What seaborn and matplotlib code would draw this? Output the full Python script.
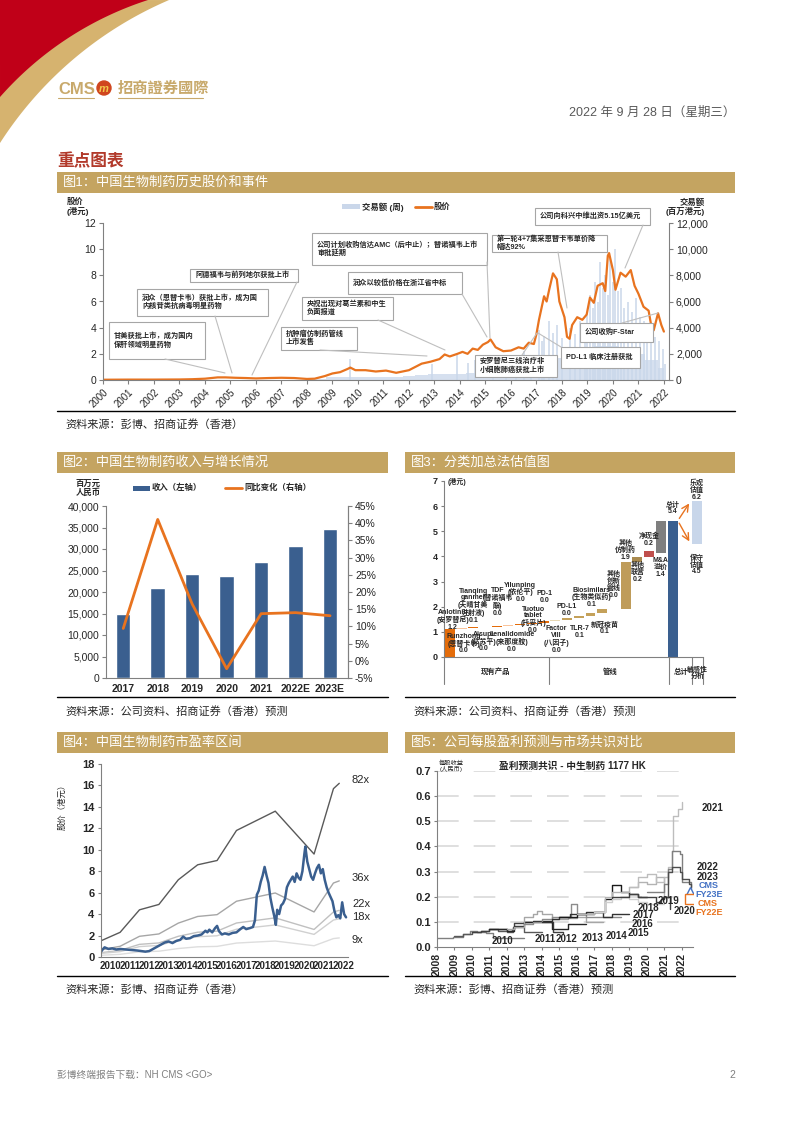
import numpy as np
import matplotlib
matplotlib.use("Agg")
import matplotlib.pyplot as plt
import seaborn as sns
from matplotlib.patches import Rectangle, Polygon, Circle

# -------------------------------
# Data
# -------------------------------

# Fig 1: share price (HKD) and weekly turnover (HKD mn), x = position on the year axis
fig1_years = [str(y) for y in range(2000, 2023)]
price_pos = [0, 1, 2, 3, 3.5, 4, 4.5, 4.8, 5.2, 5.6, 6, 6.5, 7, 7.5, 8, 8.3, 8.7,
             9.0, 9.3, 9.6, 9.7, 9.9, 10.3, 10.7, 11.1, 11.5, 12.0, 12.5, 12.85,
             13.2, 13.4, 13.6, 13.9, 14.1, 14.3, 14.5, 14.7, 14.9, 15.1, 15.2, 15.4,
             15.7, 16.0, 16.3, 16.5, 16.7, 16.9, 17.0, 17.1, 17.3, 17.4, 17.5, 17.65,
             17.8, 17.9, 18.1, 18.2, 18.3, 18.4, 18.6, 18.8, 18.97, 19.1, 19.25, 19.4,
             19.6, 19.7, 19.8, 19.85, 20.0, 20.1, 20.3, 20.5, 20.7, 20.85, 21.0, 21.2,
             21.4, 21.5, 21.6, 21.77, 21.9, 22.0]
price_hkd = [0.02, 0.03, 0.03, 0.04, 0.06, 0.1, 0.2, 0.2, 0.17, 0.15, 0.12, 0.15,
             0.17, 0.15, 0.08, 0.1, 0.3, 0.5, 0.6, 0.85, 0.95, 0.75, 0.75, 0.65,
             0.72, 0.55, 0.75, 1.25, 1.4, 1.6, 1.95, 1.8, 2.0, 2.15, 2.0, 2.4, 2.3,
             2.7, 2.9, 3.1, 2.5, 2.2, 2.25, 2.5, 2.4, 2.85, 2.75, 3.5, 4.6, 6.4, 6.0,
             6.9, 8.15, 7.7, 6.0, 4.8, 3.3, 3.15, 4.2, 4.8, 4.6, 5.0, 6.3, 5.9, 7.2,
             7.4, 6.8, 9.5, 9.7, 8.4, 6.9, 8.2, 7.9, 8.4, 7.2, 6.6, 5.6, 5.3, 4.2,
             3.8, 5.1, 4.2, 3.7]
vol_pos = [8.0, 8.5, 9.0, 9.5, 10.0, 10.5, 11.0, 11.5, 12.0, 12.5, 13.0, 13.5, 14.0,
           14.5, 15.0, 15.5, 16.0, 16.5, 17.0, 17.5, 18.0, 18.5, 19.0, 19.5, 20.0,
           20.5, 21.0, 21.5, 22.0]
vol_level = [40, 80, 200, 250, 220, 220, 220, 250, 300, 400, 450, 450, 450, 550,
             600, 600, 700, 900, 1500, 1900, 1700, 1700, 2100, 2600, 2600, 2200,
             2000, 1500, 900]
spike_pos = [9.7, 12.9, 13.9, 14.3, 14.6, 15.3, 15.8, 16.2, 16.5, 16.8, 17.1, 17.2,
             17.3, 17.5, 17.65, 17.8, 18.0, 18.3, 18.5, 18.7, 18.9, 19.0, 19.1, 19.2,
             19.3, 19.4, 19.5, 19.6, 19.7, 19.8, 19.9, 20.0, 20.1, 20.2, 20.3, 20.45,
             20.6, 20.75, 20.9, 21.05, 21.2, 21.35, 21.5, 21.65, 21.8, 21.95, 22.05]
spike_val = [1600, 1200, 1900, 1300, 1500, 1600, 1400, 1800, 2200, 1900, 3800, 3000,
             3400, 4500, 3600, 4200, 3200, 4000, 3500, 4500, 3800, 5200, 6500, 5500,
             7500, 6000, 9000, 7000, 8000, 6500, 9500, 7500, 10000, 6800, 7000, 5500,
             6000, 5200, 6300, 4800, 4500, 3900, 3500, 3300, 3000, 2400, 1200]

# Fig 2: revenue (RMB mn) and yoy growth (%)
rev_years = ["2017", "2018", "2019", "2020", "2021", "2022E", "2023E"]
revenue = [14800, 20970, 24300, 23700, 26900, 30700, 34600]
growth = [9.4, 41.1, 16.5, -2.3, 13.7, 14.0, 13.1]

# Fig 3: sum-of-the-parts (HKD per share)
sotp_names = ["Anlotinib\n(安罗替尼)", "Runzhong\n(恩替卡韦)", "Tianqing\nganmei\n(天晴甘美\n注射液)",
              "Aisupi\n(艾苏平)", "TDF\n(替诺福韦\n酯)", "Lenalidomide\n(来那度胺)",
              "Yilunping\n(依伦平)", "Tuotuo\ntablet\n(托妥片)", "PD-1", "Factor\nVIII\n(八因子)",
              "PD-L1", "TLR-7", "Biosimilars\n(生物类似药)", "新冠疫苗", "其他\n创新\n管线",
              "其他\n仿制药", "其他\n联营", "净现金", "M&A\n溢价", "总计"]
sotp_text = ["1.2", "0.0", "0.1", "0.0", "0.0", "0.0", "0.0", "0.0", "0.0", "0.0",
             "0.0", "0.1", "0.1", "0.1", "0.0", "1.9", "0.2", "0.2", "1.4", "5.4"]
sotp_bottom = [0, 1.12, 1.15, 1.18, 1.21, 1.23, 1.27, 1.30, 1.36, 1.44, 1.46, 1.54,
               1.62, 1.76, 1.90, 1.90, 3.77, 3.97, 4.15, 0]
sotp_top = [1.12, 1.15, 1.18, 1.21, 1.23, 1.27, 1.30, 1.36, 1.44, 1.46, 1.54, 1.62,
            1.76, 1.90, 1.92, 3.77, 3.97, 4.21, 5.42, 5.42]
sens_low, sens_high = 4.5, 6.2

# Fig 4: P/E bands (HKD) and share price
pe_years = [2010, 2011, 2012, 2013, 2014, 2015, 2016, 2017, 2019, 2021, 2022, 2022.3]
pe82 = [1.5, 2.3, 4.4, 4.9, 7.2, 8.6, 9.0, 11.8, 13.6, 9.6, 15.7, 16.2]
pe36 = [0.66, 1.0, 1.93, 2.15, 3.16, 3.78, 3.95, 5.2, 5.97, 4.2, 6.9, 7.1]
pe22 = [0.40, 0.62, 1.18, 1.31, 1.93, 2.31, 2.41, 3.17, 3.65, 2.57, 4.2, 4.35]
pe18 = [0.33, 0.5, 0.97, 1.08, 1.58, 1.89, 1.98, 2.59, 2.99, 2.11, 3.45, 3.56]
pe9 = [0.16, 0.25, 0.48, 0.54, 0.79, 0.95, 0.99, 1.3, 1.49, 1.05, 1.72, 1.78]
px_date = [2010.0, 2010.1, 2010.2, 2010.4, 2010.6, 2010.8, 2011.0, 2011.3, 2011.6, 2011.9,
           2012.1, 2012.3, 2012.5, 2012.7, 2012.9, 2013.1, 2013.3, 2013.5, 2013.7, 2013.9,
           2014.1, 2014.25, 2014.4, 2014.6, 2014.8, 2015.0, 2015.2, 2015.4, 2015.5, 2015.6,
           2015.75, 2015.9, 2016.0, 2016.1, 2016.25, 2016.4, 2016.6, 2016.8, 2017.0, 2017.2,
           2017.35, 2017.5, 2017.7, 2017.85, 2017.95, 2018.05, 2018.15, 2018.25, 2018.35,
           2018.45, 2018.55, 2018.65, 2018.75, 2018.85, 2018.95, 2019.03, 2019.1, 2019.2,
           2019.3, 2019.4, 2019.5, 2019.6, 2019.7, 2019.8, 2019.9, 2020.0, 2020.1, 2020.2,
           2020.3, 2020.4, 2020.5, 2020.55, 2020.65, 2020.75, 2020.85, 2020.95, 2021.05,
           2021.15, 2021.25, 2021.35, 2021.45, 2021.55, 2021.65, 2021.75, 2021.85, 2021.95,
           2022.05, 2022.15, 2022.25, 2022.35, 2022.45, 2022.55, 2022.65]
px_close = [0.45, 0.7, 0.9, 0.75, 0.8, 0.7, 0.75, 0.7, 0.65, 0.6, 0.55, 0.5, 0.55, 0.75,
            0.95, 1.15, 1.35, 1.45, 1.3, 1.5, 1.6, 1.9, 1.7, 1.75, 1.95, 2.0, 2.1, 2.45,
            2.3, 2.55, 2.3, 2.7, 2.9, 2.4, 2.1, 2.2, 2.1, 2.25, 2.3, 2.6, 2.8, 2.6, 2.7,
            2.8, 3.4, 5.8, 6.2, 7.0, 7.6, 8.4, 7.6, 6.9, 5.5, 4.6, 3.8, 3.0, 4.4, 4.0,
            4.8, 5.0, 5.4, 6.5, 6.9, 7.2, 7.5, 7.0, 7.8, 7.4, 7.2, 8.0, 9.6, 10.3, 8.9,
            8.2, 7.5, 7.2, 7.8, 8.3, 8.6, 7.8, 8.2, 7.2, 6.5, 6.0, 5.6, 5.2, 4.3, 3.7,
            3.9, 3.6, 5.1, 4.0, 3.7]

# Fig 5: consensus EPS (RMB) by fiscal year
eps_lines = {
    "2010": ([2008.0, 2008.9, 2009.5, 2009.9, 2010.3, 2010.8, 2011.2, 2013.0],
             [0.035, 0.04, 0.05, 0.065, 0.06, 0.055, 0.037, 0.037]),
    "2011": ([2009.0, 2009.5, 2010.0, 2010.5, 2011.0, 2011.5, 2012.0, 2012.35, 2013.0, 2014.0],
             [0.045, 0.05, 0.06, 0.065, 0.07, 0.065, 0.06, 0.08, 0.06, 0.058]),
    "2012": ([2010.0, 2010.5, 2011.0, 2012.0, 2012.3, 2012.4, 2013.0, 2014.6, 2014.65, 2015.2],
             [0.06, 0.065, 0.07, 0.065, 0.07, 0.095, 0.1, 0.1, 0.06, 0.055]),
    "2013": ([2011.0, 2012.0, 2012.4, 2013.0, 2013.5, 2014.5, 2014.6, 2015.5, 2016.5],
             [0.07, 0.065, 0.085, 0.1, 0.105, 0.1, 0.07, 0.09, 0.09]),
    "2014": ([2012.0, 2012.4, 2013.0, 2013.5, 2013.7, 2014.0, 2014.6, 2015.5, 2016.0, 2016.5, 2017.5],
             [0.07, 0.08, 0.12, 0.13, 0.145, 0.13, 0.11, 0.115, 0.12, 0.1, 0.1]),
    "2015": ([2013.0, 2013.5, 2014.0, 2014.6, 2015.0, 2015.6, 2015.65, 2016.0, 2016.5, 2017.0, 2018.5],
             [0.09, 0.1, 0.11, 0.12, 0.12, 0.12, 0.17, 0.13, 0.12, 0.12, 0.12]),
    "2016": ([2014.0, 2014.6, 2015.0, 2015.6, 2016.0, 2016.5, 2017.0, 2017.5, 2018.0, 2019.0],
             [0.1, 0.11, 0.12, 0.13, 0.13, 0.14, 0.14, 0.12, 0.13, 0.13]),
    "2017": ([2015.0, 2016.0, 2016.5, 2017.0, 2017.3, 2017.6, 2018.0, 2018.5, 2019.0, 2019.5, 2020.0],
             [0.12, 0.13, 0.13, 0.14, 0.14, 0.19, 0.245, 0.22, 0.21, 0.2, 0.2]),
    "2018": ([2016.0, 2017.0, 2017.6, 2018.0, 2018.5, 2019.0, 2019.5, 2020.0, 2020.5, 2021.0],
             [0.13, 0.14, 0.2, 0.22, 0.22, 0.24, 0.26, 0.25, 0.28, 0.2]),
    "2019": ([2017.0, 2017.6, 2018.0, 2018.5, 2019.0, 2019.5, 2020.0, 2020.4, 2021.0],
             [0.14, 0.18, 0.19, 0.2, 0.19, 0.18, 0.17, 0.17, 0.17]),
    "2020": ([2018.0, 2018.5, 2019.0, 2019.5, 2020.0, 2020.5, 2020.8, 2021.0, 2021.3],
             [0.2, 0.2, 0.21, 0.2, 0.2, 0.18, 0.19, 0.2, 0.15]),
    "2021": ([2019.0, 2019.5, 2020.0, 2020.5, 2021.0, 2021.2, 2021.45, 2021.5, 2021.8, 2022.0],
             [0.24, 0.28, 0.29, 0.26, 0.28, 0.32, 0.38, 0.52, 0.55, 0.575]),
    "2022": ([2020.0, 2020.5, 2021.0, 2021.2, 2021.45, 2021.9, 2022.0, 2022.4, 2022.5],
             [0.22, 0.22, 0.25, 0.31, 0.38, 0.37, 0.26, 0.26, 0.23]),
    "2023": ([2021.0, 2021.2, 2021.45, 2021.9, 2022.0, 2022.4, 2022.5],
             [0.2, 0.3, 0.32, 0.3, 0.27, 0.25, 0.24]),
}
cms_fy23 = (2022.45, 0.219)
cms_fy22 = (2022.49, 0.192)

# -------------------------------
# Style
# -------------------------------

sns.set_theme(style="white")
plt.rcParams["font.family"] = ["Liberation Sans", "Noto Sans CJK SC", "DejaVu Sans"]
plt.rcParams["axes.unicode_minus"] = False

GOLD = "#C4A461"
ORANGE = "#E8731F"
NAVY = "#3A5F8F"
SPINE = "#808080"
VOL = "#CAD7EA"

fig = plt.figure(figsize=(7.94, 11.22), dpi=100)


def axes_px(l, t, r, b):
    return fig.add_axes([l / 794, 1 - b / 1122, (r - l) / 794, (b - t) / 1122])


def style_axes(ax, sides=("left", "bottom")):
    for s in ["left", "right", "top", "bottom"]:
        ax.spines[s].set_visible(s in sides)
        ax.spines[s].set_color(SPINE)
        ax.spines[s].set_linewidth(0.8)
    ax.set_xlabel("")
    ax.set_ylabel("")


# -------------------------------
# Fig 1: price history
# -------------------------------

ax1 = axes_px(103, 223, 669, 380)
ax1v = ax1.twinx()
ax1v.fill_between(vol_pos, vol_level, step="mid", color="#D6E0EF", lw=0)
ax1v.vlines(spike_pos, 0, spike_val, color=VOL, lw=1.1)
ax1v.set_ylim(0, 12000)
ax1v.set_yticks(range(0, 12001, 2000))
ax1v.set_yticklabels([f"{v:,}" for v in range(0, 12001, 2000)], fontsize=7.5)
style_axes(ax1v, ("right",))
ax1v.tick_params(axis="y", length=3, width=0.8, color=SPINE, pad=2, direction="out", right=True)

ax1.set_zorder(ax1v.get_zorder() + 1)
ax1.patch.set_visible(False)
sns.lineplot(x=price_pos, y=price_hkd, color=ORANGE, lw=1.6, ax=ax1, estimator=None)
ax1.set_xlim(0, 22.2)
ax1.set_ylim(0, 12)
ax1.set_yticks(range(0, 13, 2))
ax1.set_yticklabels([str(v) for v in range(0, 13, 2)], fontsize=7.5)
ax1.set_xticks(range(len(fig1_years)))
ax1.set_xticklabels(fig1_years, rotation=45, ha="right", rotation_mode="anchor", fontsize=7)
style_axes(ax1)
ax1.tick_params(length=3, width=0.8, color=SPINE, pad=2, direction="out", left=True, bottom=True)

# -------------------------------
# Fig 2: revenue and growth
# -------------------------------

ax2 = axes_px(106, 506, 348, 678)
sns.barplot(x=rev_years, y=revenue, color=NAVY, saturation=1, width=0.42, ax=ax2)
ax2.set_xlim(-0.5, 6.52)
ax2.set_ylim(0, 40000)
ax2.set_yticks(range(0, 40001, 5000))
ax2.set_yticklabels([f"{v:,}" for v in range(0, 40001, 5000)], fontsize=7.5)
ax2.set_xticks(range(7))
ax2.set_xticklabels(rev_years, fontsize=7.5, fontweight="bold")
style_axes(ax2, ("left", "bottom", "right"))
ax2.tick_params(axis="y", length=3, width=0.8, color=SPINE, pad=2, left=True)
ax2.tick_params(axis="x", length=0, pad=4)

ax2b = ax2.twinx()
sns.lineplot(x=list(range(7)), y=growth, color=ORANGE, lw=2, ax=ax2b, estimator=None)
ax2b.set_ylim(-5, 45)
ax2b.set_yticks(range(-5, 46, 5))
ax2b.set_yticklabels([f"{v}%" for v in range(-5, 46, 5)], fontsize=7.5)
style_axes(ax2b, ("right",))
ax2b.tick_params(axis="y", length=3, width=0.8, color=SPINE, pad=2, right=True)

# -------------------------------
# Fig 3: SOTP waterfall
# -------------------------------

ax3 = axes_px(444, 481, 703, 657)
sotp_colors = ["#E46C0A", "#F9C49C", "#E46C0A", "#F9C49C", "#E46C0A", "#F9C49C", "#E46C0A",
               "#E46C0A", "#E46C0A", "#E8D8B4", "#C4A15A", "#C4A15A", "#C4A15A", "#C4A15A",
               "#C4A15A", "#BF9C5A", "#A98A4F", "#C0504D", "#7F7F7F", NAVY]
heights = [t - b for t, b in zip(sotp_top, sotp_bottom)]
ax3.bar(range(len(heights)), heights, bottom=sotp_bottom, width=0.85,
        color=sotp_colors, lw=0)
ax3.bar([21.1], [sens_high - sens_low], bottom=[sens_low], width=0.9,
        color="#C8D6EA", lw=0)
for y_end in (sens_high, sens_low):
    ax3.annotate("", xy=(20.55, y_end), xytext=(19.45, 5.42),
                 arrowprops=dict(arrowstyle="->", color=ORANGE, lw=1.0))

label_y = [1.48, 0.53, 2.04, 0.61, 2.18, 0.6, 2.57, 1.48, 2.39, 0.7, 1.87, 1.0, 2.37,
           1.14, 2.87, 4.23, 3.36, 4.66, 3.55, 5.91]
label_dx = [0.25, 0.2, 0.0, -0.1, 0.1, 0.3, 0.0, 0.1, 0.1, 0.1, 0.0, 0.1, 0.1,
            0.2, 0.0, 0.0, 0.0, 0.0, 0.0, 0.0]
for i, (nm, vt) in enumerate(zip(sotp_names, sotp_text)):
    ax3.text(i + label_dx[i], label_y[i], nm + "\n" + vt, ha="center", va="center",
             fontsize=5.0, fontweight="bold", color="#262626", linespacing=0.95)
ax3.text(21.1, 6.64, "乐观\n估值\n" + f"{sens_high}", ha="center", va="center",
         fontsize=5.0, fontweight="bold", color="#262626", linespacing=0.95)
ax3.text(21.1, 3.66, "保守\n估值\n" + f"{sens_low}", ha="center", va="center",
         fontsize=5.0, fontweight="bold", color="#262626", linespacing=0.95)
ax3.text(-0.2, 6.95, "(港元)", ha="left", va="center", fontsize=5, fontweight="bold")

ax3.set_xlim(-0.5, 21.6)
ax3.set_ylim(0, 7)
ax3.set_yticks(range(0, 8))
ax3.set_yticklabels([str(v) for v in range(8)], fontsize=6.5, fontweight="bold")
ax3.set_xticks([])
style_axes(ax3, ("left", "bottom"))
ax3.tick_params(axis="y", length=2.5, width=0.8, color=SPINE, pad=2, left=True)
for xs in (-0.5, 8.46, 18.66, 20.7, 21.6):
    ax3.plot([xs, xs], [0, -1.07], color=SPINE, lw=0.8, clip_on=False)
ax3.text(3.9, -0.6, "现有产品", ha="center", va="center", fontsize=5.3, fontweight="bold")
ax3.text(13.7, -0.6, "管线", ha="center", va="center", fontsize=5.3, fontweight="bold")
ax3.text(19.7, -0.6, "总计", ha="center", va="center", fontsize=5.3, fontweight="bold")
ax3.text(21.15, -0.65, "敏感性\n分析", ha="center", va="center", fontsize=5.0,
         fontweight="bold", linespacing=0.95)

# -------------------------------
# Fig 4: P/E band
# -------------------------------

ax4 = axes_px(100.7, 764, 348, 957)
band_colors = {"82x": "#595959", "36x": "#A6A6A6", "22x": "#C0C0C0", "18x": "#D0D0D0", "9x": "#DDDDDD"}
for key, vals in zip(band_colors, [pe82, pe36, pe22, pe18, pe9]):
    sns.lineplot(x=pe_years, y=vals, color=band_colors[key], lw=1.0, ax=ax4, estimator=None)
sns.lineplot(x=px_date, y=px_close, color=NAVY, lw=1.8, ax=ax4, estimator=None)
ax4.set_xlim(2010, 2022.75)
ax4.set_ylim(0, 18)
ax4.set_yticks(range(0, 19, 2))
ax4.set_yticklabels([str(v) for v in range(0, 19, 2)], fontsize=8, fontweight="bold")
ax4.set_xticks([y + 0.5 for y in range(2010, 2023)])
ax4.set_xticklabels([str(y) for y in range(2010, 2023)], fontsize=7, fontweight="bold")
style_axes(ax4)
ax4.tick_params(axis="y", length=2.5, width=0.8, color=SPINE, pad=2, left=True)
ax4.tick_params(axis="x", length=0, pad=3)

# -------------------------------
# Fig 5: EPS forecast vs consensus
# -------------------------------

ax5 = axes_px(437, 771, 693, 947)
for y in np.arange(0.1, 0.71, 0.1):
    ax5.axhline(y, color="#D9D9D9", lw=1.2, dashes=(13, 9), zorder=0)
line_cols = ["#808080", "#595959", "#404040", "#262626", "#A6A6A6", "#8C8C8C", "#333333",
             "#1A1A1A", "#B3B3B3", "#CFCFCF", "#404040", "#BDBDBD", "#7F7F7F", "#4D4D4D"]
for col, (fy, (xs, ys)) in zip(line_cols, eps_lines.items()):
    sns.lineplot(x=xs, y=ys, color=col, lw=1.0, drawstyle="steps-post", ax=ax5, estimator=None)
ax5.plot(*cms_fy23, marker="^", ms=7, mfc="white", mec="#4472C4", mew=1.0, ls="none")
ax5.plot(*cms_fy22, marker="s", ms=7, mfc="white", mec=ORANGE, mew=1.0, ls="none")
ax5.set_xlim(2008, 2022.64)
ax5.set_ylim(0, 0.7)
ax5.set_yticks(np.arange(0, 0.71, 0.1))
ax5.set_yticklabels([f"{v:.1f}" for v in np.arange(0, 0.71, 0.1)], fontsize=8, fontweight="bold")
ax5.set_xticks(range(2008, 2023))
ax5.set_xticklabels([str(y) for y in range(2008, 2023)], rotation=90, fontsize=7.5, fontweight="bold")
style_axes(ax5)
ax5.tick_params(axis="y", length=2.5, width=0.8, color=SPINE, pad=2, left=True)
ax5.tick_params(axis="x", length=2.5, width=0.8, color=SPINE, pad=2, bottom=True)

# -------------------------------
# Page furniture (pixel coordinates)
# -------------------------------

pg = fig.add_axes([0, 0, 1, 1], zorder=10)
pg.set_xlim(0, 794)
pg.set_ylim(1122, 0)
pg.axis("off")
pg.patch.set_alpha(0)


def corner_arc(cx, cy, r, x0, y0):
    a1 = np.arctan2(0 - cy, x0 - cx)
    a2 = np.arctan2(y0 - cy, 0 - cx)
    t = np.linspace(a1, a2, 80)
    pts = np.column_stack([cx + r * np.cos(t), cy + r * np.sin(t)])
    return np.vstack([[[0, 0]], pts])


pg.add_patch(Polygon(corner_arc(317.8, 347.3, 377.8, 169, 143), closed=True, color="#D6B36F", lw=0))
pg.add_patch(Polygon(corner_arc(250, 317, 333, 148, 97), closed=True, color="#C00018", lw=0))

LOGO = "#C8A96B"
pg.text(58, 89, "CMS", fontsize=12, fontweight="bold", color=LOGO, va="center", ha="left")
pg.add_patch(Circle((104, 88), 7, color="#D0461E"))
pg.text(104, 88.5, "m", fontsize=8, fontweight="bold", style="italic", color="#F2C94C",
        ha="center", va="center")
pg.text(118, 89, "招商證券國際", fontsize=11, fontweight="bold", color=LOGO, va="center", ha="left")
pg.plot([58, 94], [97.5, 97.5], color=LOGO, lw=0.8)
pg.plot([118, 203], [97.5, 97.5], color=LOGO, lw=0.8)
pg.text(735, 113, "2022 年 9 月 28 日（星期三）", fontsize=9, color="#595959", ha="right", va="center")
pg.text(57, 161, "重点图表", fontsize=12, fontweight="bold", color="#B23A2B", ha="left", va="center")


def title_bar(x, y, w, text):
    pg.add_patch(Rectangle((x, y), w, 20.5, color=GOLD, lw=0))
    pg.text(x + 6, y + 10.5, text, fontsize=9.5, color="white", ha="left", va="center")


def source(x0, x1, y, text):
    pg.plot([x0, x1], [y, y], color="black", lw=1.0)
    pg.text(x0 + 8, y + 14, text, fontsize=8, color="#262626", ha="left", va="center")


title_bar(57, 172, 678, "图1：中国生物制药历史股价和事件")
title_bar(57, 452, 331, "图2：中国生物制药收入与增长情况")
title_bar(405, 452, 330, "图3：分类加总法估值图")
title_bar(57, 732, 331, "图4：中国生物制药市盈率区间")
title_bar(405, 732, 330, "图5：公司每股盈利预测与市场共识对比")

source(57, 735, 411, "资料来源：彭博、招商证券（香港）")
source(57, 388, 697, "资料来源：公司资料、招商证券（香港）预测")
source(405, 735, 697, "资料来源：公司资料、招商证券（香港）预测")
source(57, 388, 976, "资料来源：彭博、招商证券（香港）")
source(405, 735, 976, "资料来源：彭博、招商证券（香港）预测")

# fig 1 axis titles and legend
pg.text(67, 207, "股价\n(港元)", fontsize=6, fontweight="bold", ha="left", va="center", linespacing=1.1)
pg.text(705, 207, "交易额\n(百万港元)", fontsize=6, fontweight="bold", ha="right", va="center",
        linespacing=1.1)
pg.add_patch(Rectangle((342, 204), 18, 5, color=VOL, lw=0))
pg.text(362, 207, "交易额 (周)", fontsize=6, fontweight="bold", ha="left", va="center")
pg.plot([415, 432], [207, 207], color=ORANGE, lw=2)
pg.text(434, 207, "股价", fontsize=6, fontweight="bold", ha="left", va="center")

# fig 1 event boxes: (left, top, right, bottom), text, leader start, leader end
events = [
    ((109, 322, 205, 359), "甘美获批上市，成为国内\n保肝领域明星药物", (165, 359), (225, 373)),
    ((137, 289, 268, 316), "润众（恩替卡韦）获批上市，成为国\n内核苷类抗病毒明星药物", (215, 316), (232, 373)),
    ((190, 269, 298, 282), "阿德福韦与前列地尔获批上市", (297, 282), (252, 375)),
    ((281, 327, 357, 350), "抗肿瘤仿制药管线\n上市发售", (320, 350), (427, 356)),
    ((302, 297, 393, 320), "央视出现对葛兰素和中生\n负面报道", (378, 320), (445, 350)),
    ((348, 272, 462, 294), "润众以较低价格在浙江省中标", (462, 294), (487, 337)),
    ((312, 233, 487, 265), "公司计划收购信达AMC（后中止）；替诺福韦上市\n审批延期", (487, 262), (490, 338)),
    ((492, 235, 607, 252), "第一轮4+7集采恩替卡韦单价降\n幅达92%", (558, 252), (567, 308)),
    ((535, 208, 650, 225), "公司向科兴中维出资5.15亿美元", (643, 225), (625, 268)),
    ((580, 323, 653, 342), "公司收购F-Star", (622, 323), (658, 313)),
    ((561, 347, 640, 368), "PD-L1 临床注册获批", (561, 347), (538, 333)),
    ((475, 355, 557, 377), "安罗替尼三线治疗非\n小细胞肺癌获批上市", (522, 355), (537, 333)),
]
for (l, t, r, b), txt, p0, p1 in events:
    pg.plot([p0[0], p1[0]], [p0[1], p1[1]], color="#BFBFBF", lw=0.8)
    pg.add_patch(Rectangle((l, t), r - l, b - t, facecolor="white", edgecolor="#A6A6A6", lw=0.8))
    pg.text(l + 5, (t + b) / 2, txt, fontsize=5.2, fontweight="bold", color="#262626",
            ha="left", va="center", linespacing=1.15)

# fig 2 legend
pg.text(88, 488, "百万元\n人民币", fontsize=6, fontweight="bold", ha="center", va="center", linespacing=1.1)
pg.add_patch(Rectangle((133, 485.5), 17, 5, color=NAVY, lw=0))
pg.text(152, 488, "收入（左轴）", fontsize=6, fontweight="bold", ha="left", va="center")
pg.plot([225, 242], [488, 488], color=ORANGE, lw=2)
pg.text(244, 488, "同比变化（右轴）", fontsize=6, fontweight="bold", ha="left", va="center")

# fig 4 labels
pg.text(62, 805, "股价（港元）", fontsize=6, rotation=90, ha="center", va="center")
for lab, yy in [("82x", 780), ("36x", 878), ("22x", 904), ("18x", 917), ("9x", 940)]:
    pg.text(352, yy, lab, fontsize=8, ha="left", va="center")

# fig 5 labels
pg.text(572, 766, "盈利预测共识 - 中生制药 1177 HK", fontsize=7, fontweight="bold", ha="center", va="center")
pg.text(451, 766, "每股收益\n(人民币)", fontsize=4.5, ha="center", va="center", linespacing=1.1)
for lab, x, y in [("2021", 712, 808), ("2022", 708, 867), ("2023", 708, 877),
                  ("2020", 684, 911), ("2019", 668, 901), ("2018", 648, 908),
                  ("2017", 643, 915), ("2016", 642, 924), ("2015", 638, 933),
                  ("2014", 616, 936), ("2013", 593, 938), ("2012", 567, 939),
                  ("2011", 545, 939), ("2010", 502, 941)]:
    pg.text(x, y, lab, fontsize=7, fontweight="bold", ha="center", va="center")
pg.text(709, 885, "CMS", fontsize=6.5, fontweight="bold", color="#4472C4", ha="center", va="center")
pg.text(709, 894, "FY23E", fontsize=6.5, fontweight="bold", color="#4472C4", ha="center", va="center")
pg.text(708, 903, "CMS", fontsize=6.5, fontweight="bold", color=ORANGE, ha="center", va="center")
pg.text(709, 912, "FY22E", fontsize=6.5, fontweight="bold", color=ORANGE, ha="center", va="center")

# footer
pg.text(57, 1075, "彭博终端报告下载：NH CMS <GO>", fontsize=7, color="#7F7F7F", ha="left", va="center")
pg.text(735, 1075, "2", fontsize=7.5, color="#7F7F7F", ha="right", va="center")

fig.savefig("out.png", dpi=100)
